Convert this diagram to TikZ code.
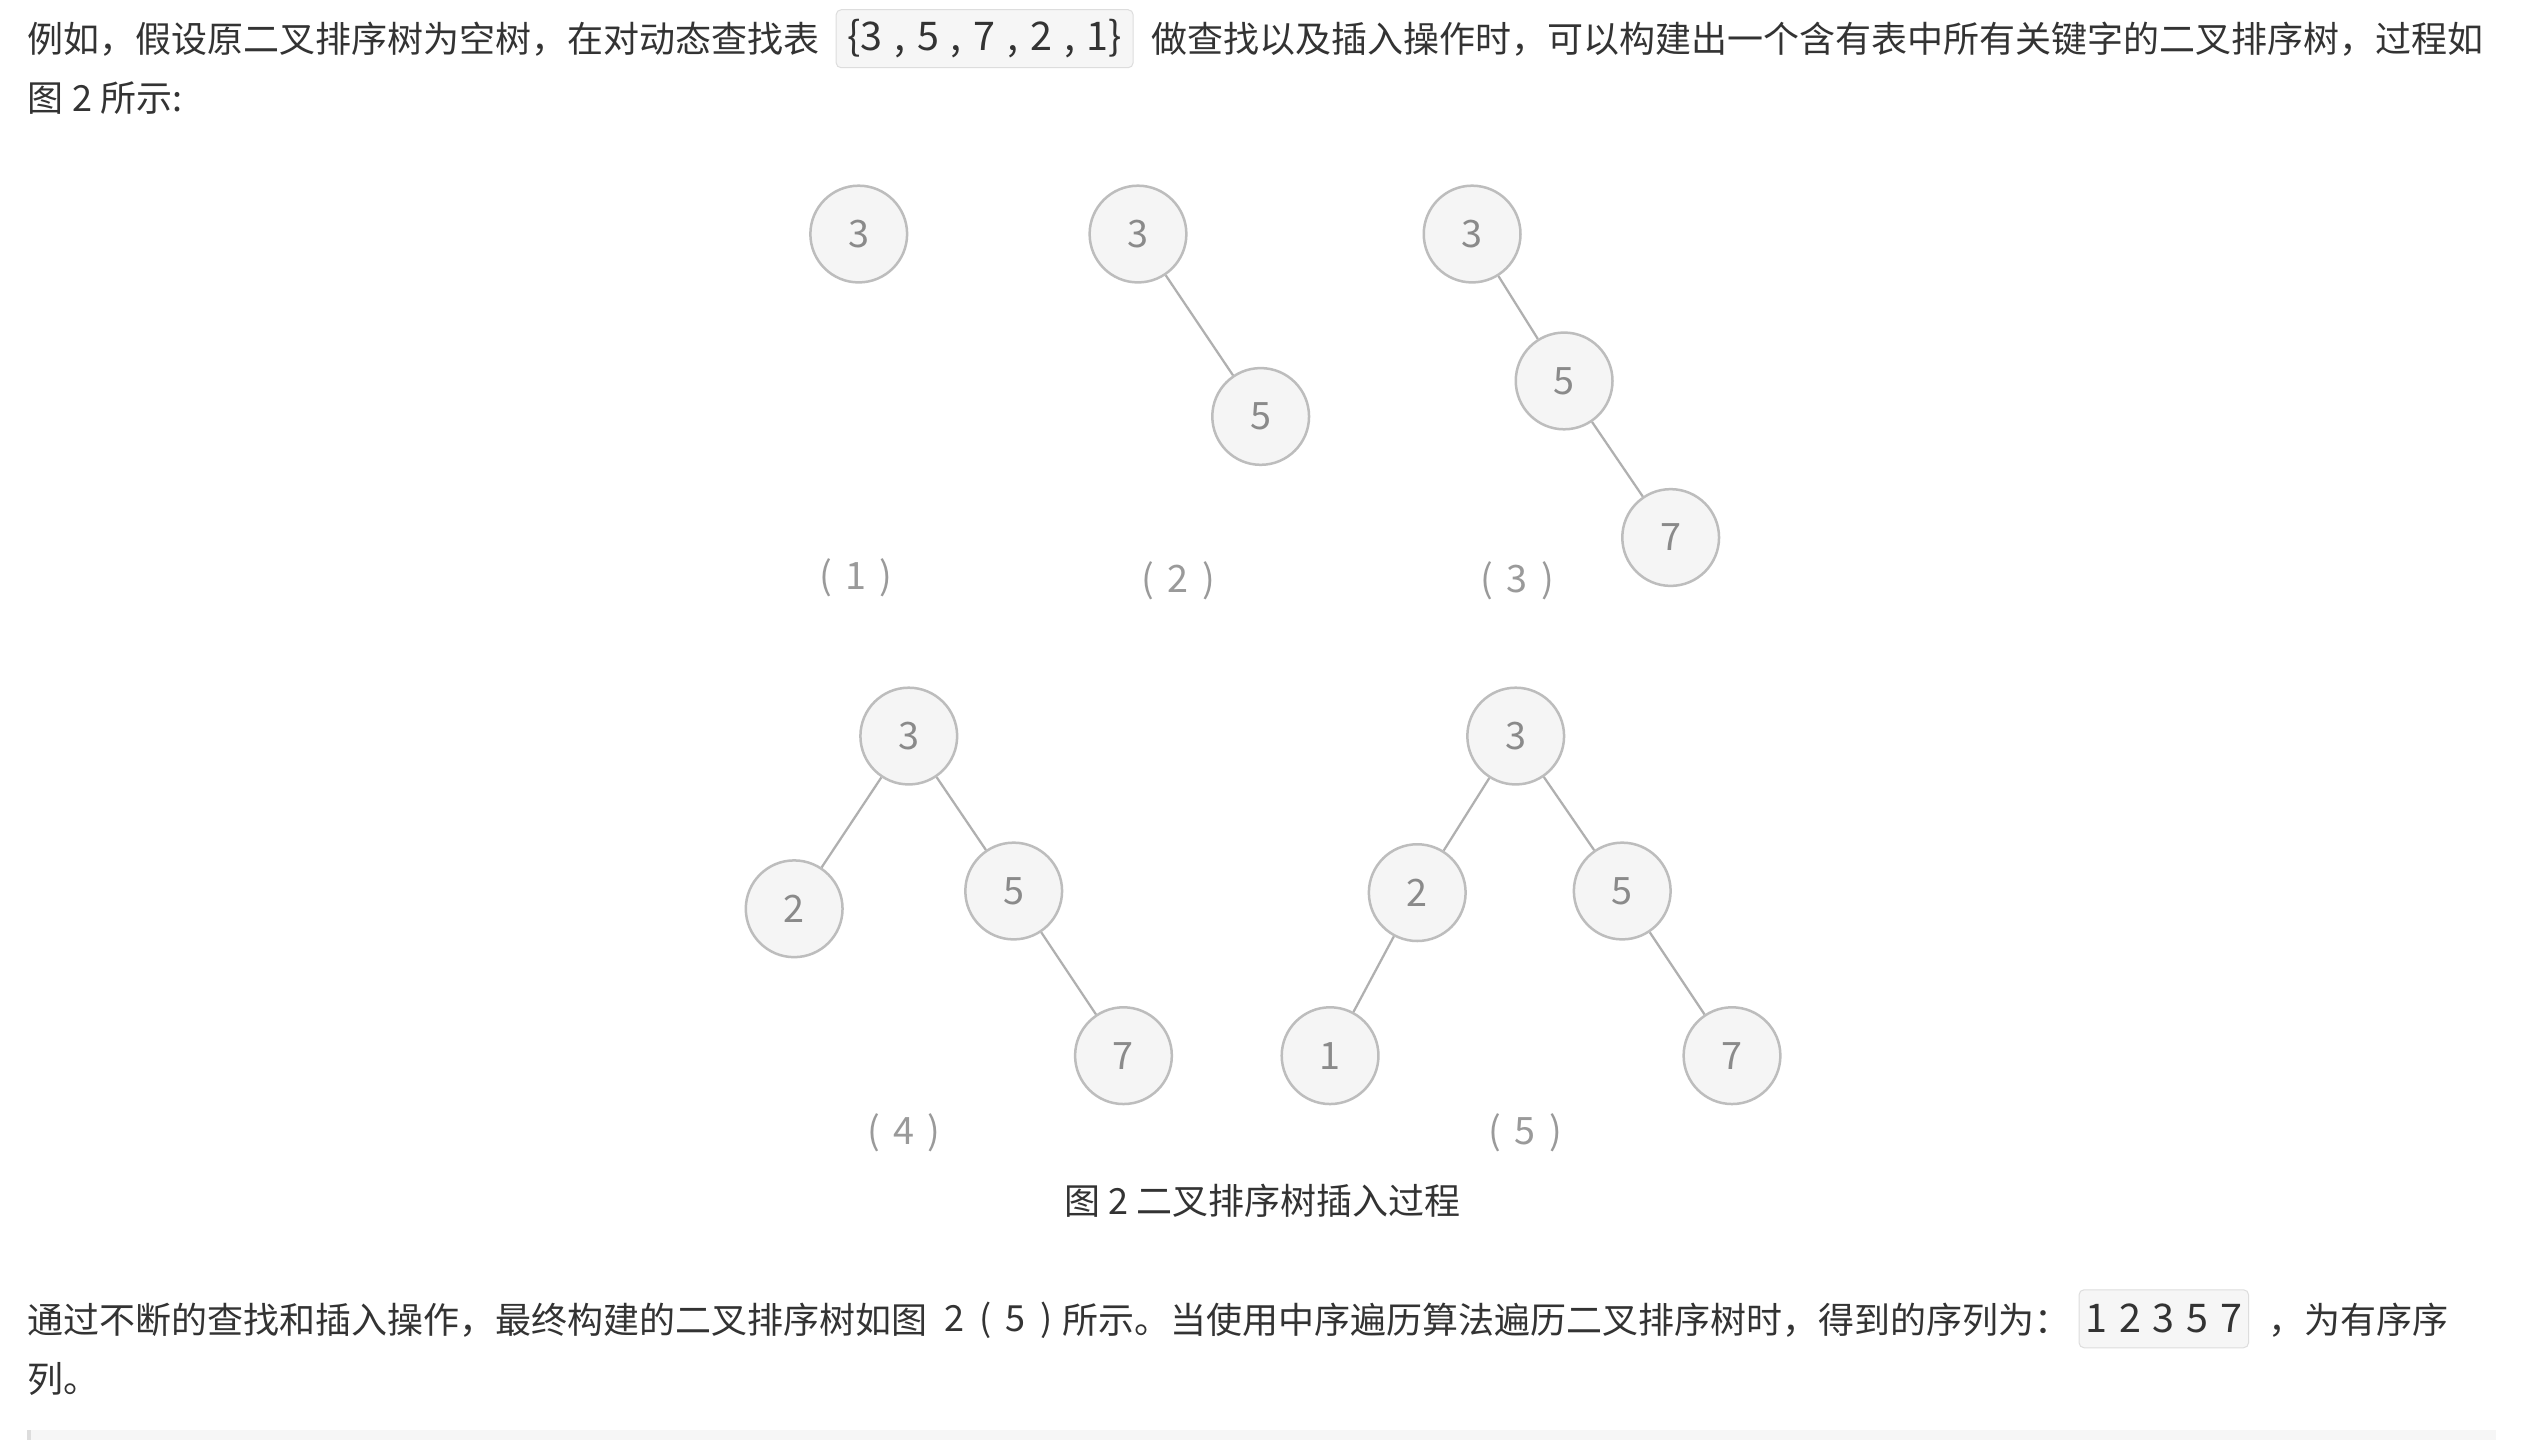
\documentclass[tikz,border=0pt]{standalone}
\usepackage{fontspec}
\setmainfont{Noto Sans CJK SC}
\definecolor{textc}{HTML}{333333}
\definecolor{boxline}{HTML}{DDDDDD}
\definecolor{boxfill}{HTML}{F6F6F6}
\definecolor{nodeline}{HTML}{BDBDBD}
\definecolor{nodefill}{HTML}{F5F5F5}
\definecolor{digitc}{HTML}{8A8A8A}
\definecolor{edgec}{HTML}{B0B0B0}
\definecolor{labelc}{HTML}{9A9A9A}
\begin{document}
\begin{tikzpicture}[x=0.6457pt,y=-0.6457pt,
  txt/.style={anchor=west,inner sep=0pt,text=textc,font=\fontsize{14.4pt}{18pt}\selectfont},
  capt/.style={inner sep=0pt,text=textc,font=\fontsize{14.4pt}{18pt}\selectfont},
  codebox/.style={draw=boxline,fill=boxfill,rounded corners=2pt,inner sep=0pt,text=textc,font=\fontsize{15.8pt}{18pt}\selectfont},
  tnode/.style={circle,draw=nodeline,fill=nodefill,line width=1pt,minimum size=38.7pt,inner sep=0pt,text=digitc,font=\fontsize{15.1pt}{18pt}\selectfont},
  tedge/.style={draw=edgec,line width=0.9pt},
  sublabel/.style={inner sep=0pt,text=labelc,font=\fontsize{15.1pt}{18pt}\selectfont}]
\useasboundingbox[fill=white] (0,0) rectangle (1568,892.1);

% ---- top paragraph ----
\node[txt] (l1a) at (17,24) {例如，假设原二叉排序树为空树，在对动态查找表};
\node[codebox,minimum width=118.8pt,minimum height=23.2pt] (code1) at (610,24)
  {\{3\hspace{0.3em},\hspace{0.3em}5\hspace{0.3em},\hspace{0.3em}7\hspace{0.3em},\hspace{0.3em}2\hspace{0.3em},\hspace{0.3em}1\}};
\node[txt] (l1b) at (713,24) {做查找以及插入操作时，可以构建出一个含有表中所有关键字的二叉排序树，过程如};
\node[txt] (l2) at (17,61) {图 2 所示:};

% ---- tree 1 ----
\node[tnode] (a3) at (532,145) {3};
% ---- tree 2 ----
\node[tnode] (b3) at (705,145) {3};
\node[tnode] (b5) at (781,258) {5};
\draw[tedge] (b3) -- (b5);
% ---- tree 3 ----
\node[tnode] (c3) at (912,145) {3};
\node[tnode] (c5) at (969,236) {5};
\node[tnode] (c7) at (1035,333) {7};
\draw[tedge] (c3) -- (c5);
\draw[tedge] (c5) -- (c7);
% labels
\node[sublabel] (lab1) at (530,358) {(\hspace{0.35em}1\hspace{0.35em})};
\node[sublabel] (lab2) at (730,360) {(\hspace{0.35em}2\hspace{0.35em})};
\node[sublabel] (lab3) at (940,360) {(\hspace{0.35em}3\hspace{0.35em})};

% ---- tree 4 ----
\node[tnode] (d3) at (563,456) {3};
\node[tnode] (d2) at (492,563) {2};
\node[tnode] (d5) at (628,552) {5};
\node[tnode] (d7) at (696,654) {7};
\draw[tedge] (d3) -- (d2);
\draw[tedge] (d3) -- (d5);
\draw[tedge] (d5) -- (d7);
\node[sublabel] (lab4) at (560,702) {(\hspace{0.35em}4\hspace{0.35em})};

% ---- tree 5 ----
\node[tnode] (e3) at (939,456) {3};
\node[tnode] (e2) at (878,553) {2};
\node[tnode] (e5) at (1005,552) {5};
\node[tnode] (e1) at (824,654) {1};
\node[tnode] (e7) at (1073,654) {7};
\draw[tedge] (e3) -- (e2);
\draw[tedge] (e3) -- (e5);
\draw[tedge] (e2) -- (e1);
\draw[tedge] (e5) -- (e7);
\node[sublabel] (lab5) at (945,702) {(\hspace{0.35em}5\hspace{0.35em})};

% caption
\node[capt] (cap) at (782,744) {图 2 二叉排序树插入过程};

% ---- bottom paragraph ----
\node[txt] (p1) at (17,818) {通过不断的查找和插入操作，最终构建的二叉排序树如图};
\node[txt] (p2) at (585,818) {2\hspace{0.4em}(\hspace{0.4em}5\hspace{0.4em})};
\node[txt] (p3) at (658,818) {所示。当使用中序遍历算法遍历二叉排序树时，得到的序列为：};
\node[codebox,minimum width=67.8pt,minimum height=23.2pt] (code2) at (1340.5,817)
  {1\hspace{0.3em}2\hspace{0.3em}3\hspace{0.3em}5\hspace{0.3em}7};
\node[txt] (p4) at (1405,818) {，为有序序};
\node[txt] (p5) at (17,854) {列。};

% bottom bar (start of next block)
\fill[boxfill] (17,886) rectangle (1546,892.1);
\fill[boxline] (17,886) rectangle (19,892.1);
\end{tikzpicture}
\end{document}
